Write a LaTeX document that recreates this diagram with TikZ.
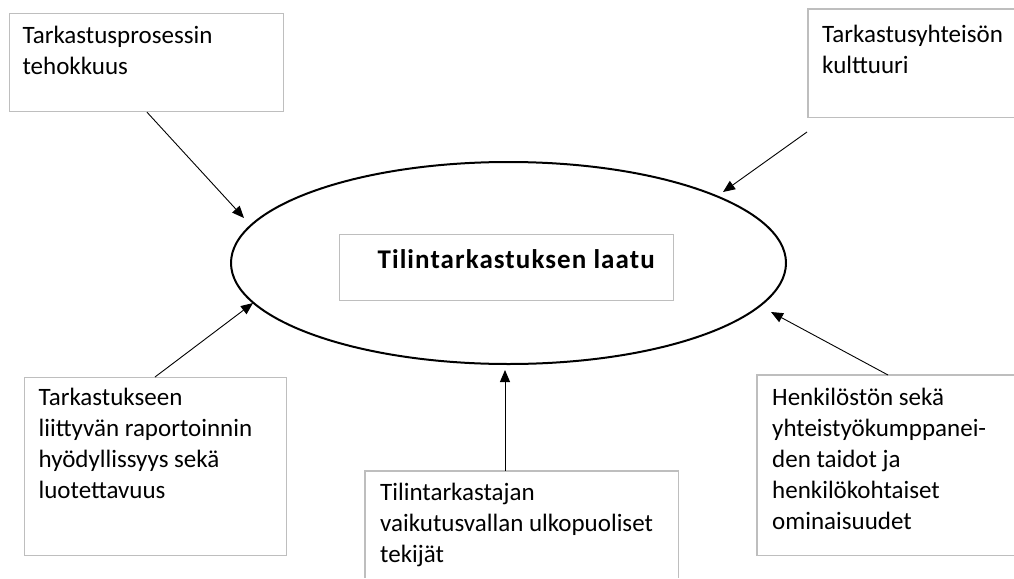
\documentclass[tikz,border=0pt]{standalone}
\usepackage{fontspec}
\setmainfont{Carlito}
\usetikzlibrary{arrows.meta,shapes.geometric,calc}
\definecolor{boxgray}{RGB}{190,190,190}
\newcommand\bxt[3]{\parbox[t][#2][t]{#1}{\raggedright\strut #3}}
\begin{document}
\begin{tikzpicture}[x=1pt,y=-1pt,
  box/.style={draw=boxgray,line width=1.2pt,anchor=north west,inner sep=0pt,align=left},
  openbox/.style={anchor=north west,inner sep=0pt,align=left},
  boxline/.style={draw=boxgray,line width=1.2pt},
  txt/.style={font=\fontsize{25}{31}\selectfont},
  arr/.style={line width=0.9pt,-{Triangle[length=12pt,width=10pt]}}]
\useasboundingbox (0,0) rectangle (1014,578);
\coordinate (pageR) at (1014,0);
\coordinate (pageB) at (0,578);
% central ellipse and title box
\node[draw,ellipse,line width=2pt,minimum width=555pt,minimum height=202pt,inner sep=0pt] (q) at (508.5,263) {};
\node[box,font=\fontsize{27}{32}\selectfont\addfontfeatures{LetterSpace=4.0},inner xsep=0pt,inner ysep=11.6pt] (title) at (339,234)
  {\bxt{334pt}{42.8pt}{\hspace*{38pt}\textbf{Tilintarkastuksen laatu}}};
% outer boxes
\node[box,txt,inner xsep=13pt,inner ysep=8.3pt] (b1) at (9,13)
  {\bxt{248pt}{81.4pt}{Tarkastusprosessin\\tehokkuus}};
\node[openbox,txt,inner xsep=14pt,inner ysep=11.3pt] (b2) at (808,9)
  {\bxt{230pt}{85.4pt}{Tarkastusyhteisön\\kulttuuri}};
\node[box,txt,inner xsep=14pt,inner ysep=6.3pt] (bl) at (24,377)
  {\bxt{234pt}{165.4pt}{Tarkastukseen\\liittyvän raportoinnin\\hyödyllissyys sekä\\luotettavuus}};
\node[openbox,txt,inner xsep=15pt,inner ysep=8.3pt] (br) at (757,375)
  {\bxt{280pt}{163.4pt}{Henkilöstön sekä\\yhteistyökumppanei-\\den taidot ja\\henkilökohtaiset\\ominaisuudet}};
\node[openbox,txt,inner xsep=15pt,inner ysep=7.3pt] (bc) at (365,471)
  {\bxt{283pt}{140pt}{Tilintarkastajan\\vaikutusvallan ulkopuoliset\\tekijät}};
% borders of the boxes cut by the page edge
\draw[boxline] (b2.north west -| pageR) -- (b2.north west) -- (b2.south west) -- (b2.south west -| pageR);
\draw[boxline] (br.north west -| pageR) -- (br.north west) -- (br.south west) -- (br.south west -| pageR);
\draw[boxline] (bc.north west |- pageB) -- (bc.north west) -- (bc.north east) -- (bc.north east |- pageB);
% connector end points
\coordinate (s1) at ([xshift=138pt]b1.south west);
\coordinate (t1) at (244,218);
\coordinate (s2) at (807,132);
\coordinate (t2) at (723,192);
\coordinate (s3) at ([xshift=131pt]br.north west);
\coordinate (t3) at (771,312);
\coordinate (s4) at ([xshift=131pt]bl.north west);
\coordinate (t4) at (253,303);
\coordinate (s5) at ([xshift=140pt]bc.north west);
\coordinate (t5) at (s5 |- 0,370);
\draw[arr] (s1) -- (t1);
\draw[arr] (s2) -- (t2);
\draw[arr] (s3) -- (t3);
\draw[arr] (s4) -- (t4);
\draw[arr] (s5) -- (t5);
\end{tikzpicture}
\end{document}
